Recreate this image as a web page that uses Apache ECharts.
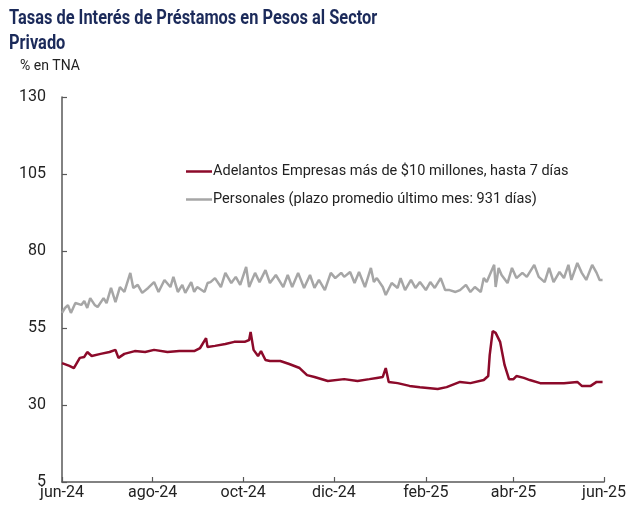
<!DOCTYPE html>
<html><head><meta charset="utf-8">
<script src="https://cdn.jsdelivr.net/npm/echarts@6/dist/echarts.min.js"></script>
<style>html,body{margin:0;padding:0;background:#fff}#c{width:629px;height:506px}</style>
</head><body><div id="c"></div>
<script>
// ---- Datos ----
const adelantosFechas = ['2024-06-01','2024-06-06','2024-06-09','2024-06-13','2024-06-16','2024-06-18','2024-06-21','2024-06-27','2024-07-03','2024-07-07','2024-07-09','2024-07-13','2024-07-20','2024-07-27','2024-08-02','2024-08-11','2024-08-19','2024-08-29','2024-09-02','2024-09-06','2024-09-07','2024-09-12','2024-09-19','2024-09-25','2024-10-02','2024-10-05','2024-10-06','2024-10-08','2024-10-11','2024-10-13','2024-10-16','2024-10-19','2024-10-26','2024-11-01','2024-11-08','2024-11-13','2024-11-18','2024-11-27','2024-12-08','2024-12-17','2024-12-25','2024-12-30','2025-01-03','2025-01-05','2025-01-07','2025-01-13','2025-01-21','2025-01-28','2025-02-09','2025-02-15','2025-02-24','2025-03-03','2025-03-12','2025-03-15','2025-03-16','2025-03-18','2025-03-20','2025-03-23','2025-03-26','2025-03-29','2025-04-01','2025-04-03','2025-04-08','2025-04-12','2025-04-19','2025-04-28','2025-05-05','2025-05-14','2025-05-17','2025-05-23','2025-05-27','2025-05-31'];
const adelantosValores = [43.6,42.7,42.0,45.3,45.6,47.2,45.9,46.6,47.2,47.9,45.3,46.6,47.5,47.2,47.9,47.2,47.5,47.5,48.5,51.7,48.8,49.2,49.8,50.5,50.5,51.1,53.7,47.9,45.9,47.5,44.6,44.3,44.3,43.3,42.0,39.7,39.1,37.8,38.4,37.8,38.4,38.8,39.1,42.0,37.5,37.1,36.2,35.8,35.2,35.8,37.5,37.1,38.1,39.4,46.2,54.0,53.4,50.5,43.0,38.4,38.4,39.4,38.8,38.1,37.1,37.1,37.1,37.5,36.2,36.2,37.5,37.5];

const personalesFechas = ['2024-06-01','2024-06-03','2024-06-05','2024-06-07','2024-06-10','2024-06-14','2024-06-16','2024-06-18','2024-06-20','2024-06-23','2024-06-25','2024-06-29','2024-07-01','2024-07-04','2024-07-07','2024-07-10','2024-07-13','2024-07-17','2024-07-19','2024-07-22','2024-07-25','2024-07-29','2024-08-02','2024-08-05','2024-08-09','2024-08-13','2024-08-15','2024-08-18','2024-08-21','2024-08-23','2024-08-27','2024-08-29','2024-08-31','2024-09-05','2024-09-07','2024-09-09','2024-09-12','2024-09-16','2024-09-19','2024-09-23','2024-09-26','2024-09-29','2024-10-03','2024-10-05','2024-10-09','2024-10-12','2024-10-16','2024-10-19','2024-10-23','2024-10-28','2024-10-31','2024-11-03','2024-11-07','2024-11-11','2024-11-15','2024-11-18','2024-11-21','2024-11-25','2024-11-29','2024-12-02','2024-12-06','2024-12-08','2024-12-12','2024-12-15','2024-12-18','2024-12-22','2024-12-26','2024-12-28','2024-12-30','2025-01-03','2025-01-05','2025-01-06','2025-01-09','2025-01-13','2025-01-15','2025-01-18','2025-01-22','2025-01-25','2025-01-28','2025-02-01','2025-02-04','2025-02-07','2025-02-11','2025-02-14','2025-02-17','2025-02-21','2025-02-24','2025-02-28','2025-03-03','2025-03-06','2025-03-10','2025-03-12','2025-03-14','2025-03-16','2025-03-19','2025-03-20','2025-03-22','2025-03-24','2025-03-28','2025-03-31','2025-04-03','2025-04-07','2025-04-10','2025-04-15','2025-04-18','2025-04-22','2025-04-25','2025-04-28','2025-05-02','2025-05-05','2025-05-08','2025-05-10','2025-05-14','2025-05-17','2025-05-20','2025-05-24','2025-05-27','2025-05-29','2025-05-31'];
const personalesValores = [59.9,61.5,62.4,59.9,63.1,62.5,63.8,61.5,64.7,62.5,61.8,64.7,63.1,68.0,63.4,68.3,66.7,72.9,68.0,69.0,66.4,68.0,69.9,66.7,70.6,68.3,71.6,66.7,69.0,66.4,69.9,66.7,68.3,66.7,69.6,69.9,71.2,68.3,72.9,69.6,71.6,69.0,74.8,68.3,72.9,69.9,73.8,69.6,72.2,68.3,72.2,68.3,72.9,68.0,72.2,68.0,70.6,67.3,72.9,71.2,72.9,71.6,73.2,69.6,73.2,68.3,74.5,69.9,71.2,68.3,65.7,66.7,69.6,68.0,71.2,67.3,70.6,68.0,69.9,67.3,69.9,68.0,71.2,67.3,67.3,66.7,67.3,69.0,66.7,68.3,66.7,71.2,69.9,72.2,75.5,68.3,74.5,72.2,69.6,74.5,71.2,72.9,71.6,75.5,71.6,69.9,74.5,69.9,73.2,71.2,75.5,70.6,76.1,72.9,70.6,75.5,72.9,70.6,70.6];

const yTicks = [5, 30, 55, 80, 105, 130];
const xTickFechas = ['2024-06-01','2024-08-01','2024-10-01','2024-12-01','2025-02-01','2025-04-01','2025-06-01'];
const xTickEtiquetas = ['jun-24','ago-24','oct-24','dic-24','feb-25','abr-25','jun-25'];
const serieNombres = ['Adelantos Empresas más de $10 millones, hasta 7 días', 'Personales (plazo promedio último mes: 931 días)'];
const tituloLineas = ['Tasas de Interés de Préstamos en Pesos al Sector', 'Privado'];
const subtitulo = '% en TNA';

// ---- Construcción ----
const categorias = [];
for (let t = Date.UTC(2024,5,1); t <= Date.UTC(2025,5,1); t += 86400000) {
  categorias.push(new Date(t).toISOString().slice(0,10));
}
const idx = {}; categorias.forEach((c,i)=>{ idx[c] = i; });
const etiquetas = {}; xTickFechas.forEach((f,i)=>{ etiquetas[f] = xTickEtiquetas[i]; });
const adelantos = adelantosFechas.map((f,i)=>[idx[f], adelantosValores[i]]);
const personales = personalesFechas.map((f,i)=>[idx[f], personalesValores[i]]);
const esTick = (i, v) => etiquetas.hasOwnProperty(v);

const tituloEstilo = { font: 'bold 20px Roboto', fill: '#1B2A5A', verticalAlign: 'middle', align: 'left' };

const chart = echarts.init(document.getElementById('c'), null, {renderer:'canvas'});
chart.setOption({
  animation: false,
  backgroundColor: '#fff',
  textStyle: { fontFamily: 'Roboto' },
  graphic: [
    { type: 'text', x: 9, y: 19, scaleX: 0.82, style: Object.assign({ text: tituloLineas[0] }, tituloEstilo) },
    { type: 'text', x: 9, y: 44, scaleX: 0.82, style: Object.assign({ text: tituloLineas[1] }, tituloEstilo) },
    { type: 'text', left: 20, top: 59, style: { text: subtitulo, font: '14px Roboto', fill: '#222' } }
  ],
  legend: {
    orient: 'vertical', left: 181, top: 159,
    icon: 'rect', itemWidth: 26, itemHeight: 2.5, itemGap: 13,
    textStyle: { fontFamily: 'Roboto', fontSize: 14.5, color: '#222', padding: [0,0,0,-4] },
    data: serieNombres
  },
  grid: { left: 62, right: 24, top: 97, bottom: 24 },
  xAxis: {
    type: 'category', data: categorias, boundaryGap: false,
    axisLine: { lineStyle: { color: '#595959', width: 1.5 } },
    axisTick: { show: true, inside: true, length: 5, interval: esTick, lineStyle: { color: '#595959', width: 1.2 } },
    axisLabel: { interval: esTick, formatter: v => etiquetas[v] || '', color: '#222', fontSize: 16, margin: 3 },
    splitLine: { show: false }
  },
  yAxis: {
    type: 'value', min: 5, max: 130,
    axisLine: { show: true, lineStyle: { color: '#595959', width: 1.5 } },
    axisTick: { show: true, inside: true, length: 5, customValues: yTicks, lineStyle: { color: '#595959', width: 1.2 } },
    axisLabel: { customValues: yTicks, color: '#222', fontSize: 16, margin: 16 },
    splitLine: { show: false }
  },
  series: [
    { name: serieNombres[0], type: 'line', data: adelantos, showSymbol: false, symbol: 'none',
      lineStyle: { color: '#8C0A2A', width: 2.5 }, itemStyle: { color: '#8C0A2A' } },
    { name: serieNombres[1], type: 'line', data: personales, showSymbol: false, symbol: 'none',
      lineStyle: { color: '#A6A6A6', width: 2.5 }, itemStyle: { color: '#A6A6A6' } }
  ]
});
</script></body></html>
